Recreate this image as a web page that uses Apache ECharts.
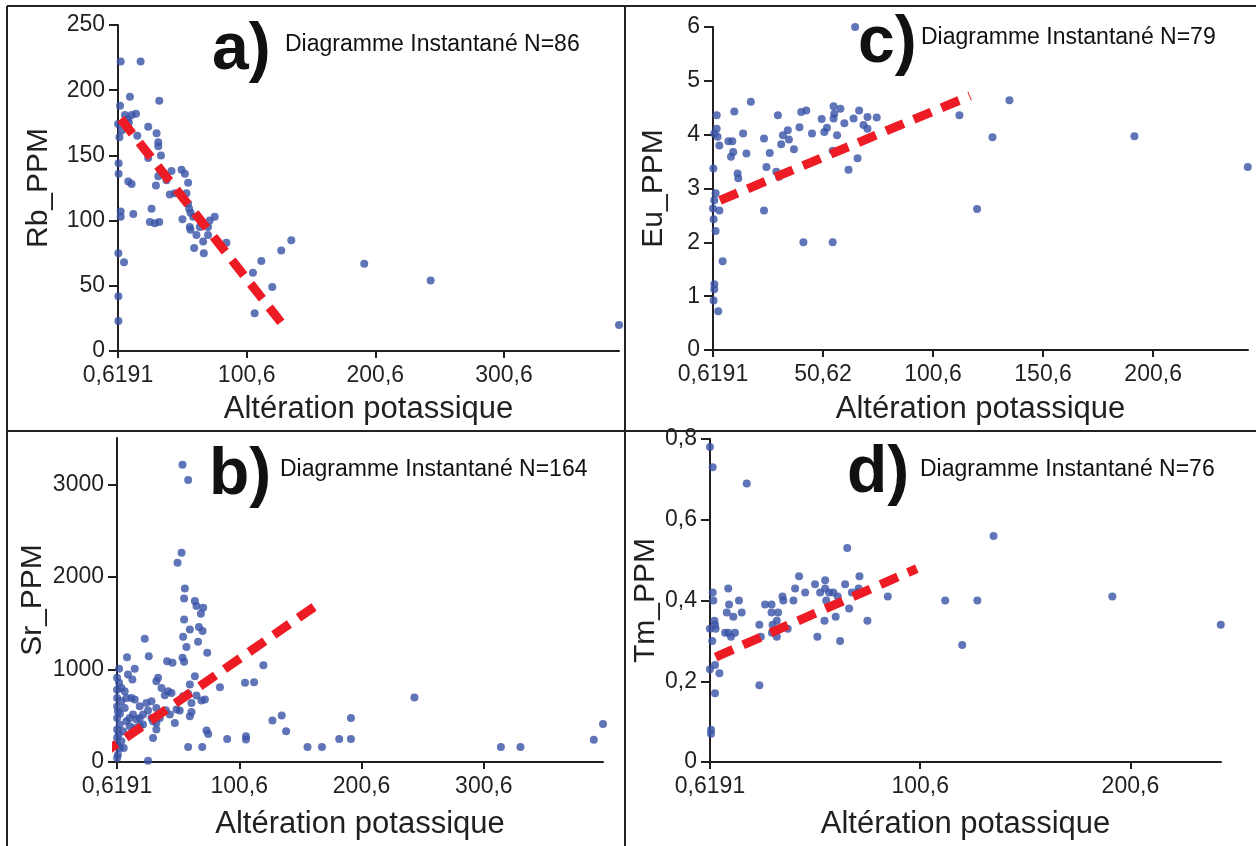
<!DOCTYPE html>
<html><head><meta charset="utf-8">
<script src="https://cdn.jsdelivr.net/npm/echarts@6/dist/echarts.min.js"></script>
<style>html,body{margin:0;padding:0;background:#fff}#c{width:1256px;height:846px}</style>
</head><body><div id="c"></div>
<script>
// ---------- data ----------
const xTicksA = [0.6191, 100.6, 200.6, 300.6];
const xTicksB = [0.6191, 100.6, 200.6, 300.6];
const xTicksC = [0.6191, 50.62, 100.6, 150.6, 200.6];
const xTicksD = [0.6191, 100.6, 200.6];
const yTicksB = [0, 1000, 2000, 3000];

const titleA = 'Diagramme Instantané N=86';
const titleB = 'Diagramme Instantané N=164';
const titleC = 'Diagramme Instantané N=79';
const titleD = 'Diagramme Instantané N=76';
const xName = 'Altération potassique';

// a) Rb_PPM
const rbPoints = [
 [2.7,222],[18.2,222],[2.2,188],[9.9,195],[0.7,174],[6.0,181],[8.6,178],[11.2,181],[14.6,182],
 [3.5,169],[1.7,164],[7.3,173],[9.0,175],[15.6,165],[1.1,144],[1.1,136],[8.6,130],[11.2,128],
 [12.5,105],[2.7,107],[2.7,103],[0.9,75],[5.3,68],[0.9,42],[0.9,23],
 [24.1,172],[24.1,148],[30.6,167],[31.9,160],[31.9,157],[34.0,150],[32.7,192],[26.7,109],
 [25.4,99],[29.3,98],[32.7,99],[30.1,127],[33.2,139],[35.8,136],[31.9,134],[38.3,131],
 [42.2,138],[40.9,120],[44.8,121],[50.0,139],[52.6,136],[55.1,129],[53.8,121],[55.1,113],
 [55.9,109],[50.7,101],[57.0,106],[59.0,103],[56.4,95],[57.0,93],[61.6,89],[59.8,79],
 [65.5,99],[64.2,95],[66.8,84],[67.3,75],[70.6,95],[71.9,100],[75.8,103],[70.6,89],
 [84.9,83],[105.5,60],[106.8,29],[112.0,69],[120.5,49],[127.5,77],[135.3,85],
 [192,67],[243.6,54],[390,20]
];
const rbTrend = [[2.7,178],[127.5,21.7]];

// b) Sr_PPM
const srPoints = [
 [54.2,3210],[58.8,3047],[53.4,2261],[50.1,2153],[56.1,1875],[55.5,1767],[64.3,1738],[65.6,1684],
 [71.1,1666],[69.2,1601],[55.5,1540],[54.7,1352],[60.2,1432],[67.6,1457],[70.6,1414],[57.4,1241],
 [66.9,1298],[74.4,1179],[54.2,1125],[55.5,1082],[23.3,1331],[26.6,1143],[8.8,1132],[15.1,1006],
 [9.6,945],[13.2,891],[2.3,1006],[41.6,1089],[46.0,1071],[34.2,909],[32.8,873],[64.3,927],
 [60.2,837],[120.3,1046],[105.3,855],[112.7,862],[84.8,808],[37.0,800],[42.4,765],[45.2,746],
 [39.7,721],[54.7,711],[65.6,718],[69.7,664],[72.5,674],[61.5,638],[58.8,736],[28.8,656],
 [24.7,638],[19.2,602],[26.0,555],[32.8,584],[40.5,559],[49.3,566],[51.9,555],[43.8,512],
 [47.9,422],[61.5,541],[60.2,494],[73.8,339],[75.2,303],[90.7,249],[106.1,278],[106.1,242],
 [127.7,447],[135.3,501],[138.9,332],[58.8,162],[70.3,162],[26.0,14],[30.1,260],[32.8,350],
 [32.8,422],[19.2,476],[21.9,512],[16.5,458],[13.7,512],[6.9,584],[4.2,656],[6.9,765],
 [4.2,800],[2.3,855],[8.3,692],[12.4,692],[15.1,674],[8.3,440],[11.0,476],[2.8,404],
 [5.5,332],[4.2,224],[2.8,151],[1.4,79],[0.7,43],[0.7,260],[1.4,548],[0.7,692],
 [0.7,476],[0.7,909],[6.1,151],[30.1,440],[35.6,476],[28.8,476],[15.1,368],[11.0,386],
 [21.9,404],[19.2,386],[0.7,350],[0.7,600],[0.7,780],[2.0,300],[3.0,520],[1.2,180],
 [156.4,162],[168.2,162],[182.3,249],[191.9,249],[191.9,476],[243.8,696],[314.5,162],
 [330.5,162],[390.5,241],[398,411]
];
const srTrend = [[-12.2,79],[162.7,1684]];

// c) Eu_PPM
const euPoints = [
 [65.2,6.0],[2.3,4.36],[2.3,4.11],[2.7,3.96],[1.2,4.02],[3.5,3.80],[0.8,3.37],[1.8,2.91],
 [1.2,2.78],[0.6,2.63],[3.5,2.59],[0.9,2.43],[1.8,2.21],[5.0,1.65],[1.2,1.22],[1.2,1.13],
 [0.9,0.92],[3.0,0.72],[10.3,4.43],[17.8,4.61],[7.6,3.88],[9.4,3.88],[9.8,3.68],[8.8,3.59],
 [14.3,4.02],[11.8,3.28],[12.1,3.19],[15.8,3.65],[23.8,3.93],[24.9,3.40],[26.4,3.66],[23.8,2.59],
 [30.1,4.36],[29.4,3.31],[30.6,3.22],[31.6,3.82],[32.4,3.99],[34.6,4.08],[35.1,3.91],[37.4,3.73],
 [39.9,4.14],[40.7,4.42],[43.0,4.45],[45.6,4.02],[41.7,2.00],[50.0,4.29],[51.2,4.05],[52.4,4.13],
 [55.4,4.53],[55.7,4.39],[55.4,4.30],[58.5,4.48],[55.0,3.70],[57.0,3.99],[60.3,4.21],[64.5,4.30],
 [67.0,4.45],[62.2,3.35],[66.3,3.56],[55.0,2.00],[69.0,4.18],[70.8,4.33],[75.0,4.32],[70.8,4.11],
 [84.7,4.16],[112.6,4.36],[135.3,4.64],[127.6,3.95],[120.6,2.62],[192.1,3.97],[243.6,3.40]
];
const euTrend = [[3.8,2.78],[117.4,4.72]];

// d) Tm_PPM
const tmPoints = [
 [0.6,0.78],[1.9,0.73],[18.1,0.69],[1.9,0.42],[2.2,0.40],[0.6,0.33],[2.7,0.35],[3.0,0.34],
 [3.3,0.33],[1.7,0.30],[0.6,0.23],[3.0,0.24],[5.1,0.22],[3.0,0.17],[1.1,0.08],[1.1,0.07],
 [9.3,0.43],[7.8,0.32],[9.3,0.32],[10.6,0.31],[9.7,0.39],[8.6,0.37],[11.7,0.36],[12.5,0.32],
 [14.4,0.40],[15.7,0.37],[24.1,0.34],[24.8,0.31],[26.8,0.39],[24.1,0.19],[29.9,0.39],[29.9,0.37],
 [33.0,0.37],[30.4,0.34],[32.4,0.35],[30.1,0.32],[32.4,0.31],[35.1,0.41],[35.5,0.40],[37.6,0.33],
 [40.3,0.40],[41.1,0.43],[43.0,0.46],[45.9,0.42],[50.6,0.44],[51.7,0.31],[53.0,0.42],[55.1,0.35],
 [55.4,0.45],[55.9,0.40],[55.4,0.43],[57.3,0.42],[59.3,0.42],[60.4,0.36],[61.4,0.41],[62.5,0.30],
 [64.9,0.44],[65.9,0.53],[66.8,0.38],[68.1,0.42],[71.3,0.42],[71.7,0.46],[71.3,0.43],[75.5,0.35],
 [85.2,0.41],[112.5,0.40],[120.6,0.29],[127.8,0.40],[135.5,0.56],[192.0,0.41],[243.6,0.34]
];
const tmTrend = [[3.3,0.26],[99,0.479]];

// ---------- chart ----------
const FONT = '"Liberation Sans", Arial, sans-serif';
const INK = '#231f20';
const DOT = '#3853a6';
const RED = '#ed1c24';
const comma = v => String(+Number(v).toFixed(4)).replace('.', ',');

function xAxis(idx, max, ticks, gap) {
  return {
    type: 'value', gridIndex: idx, min: 0.6191, max: max,
    name: xName, nameLocation: 'middle', nameGap: gap,
    nameTextStyle: { fontFamily: FONT, fontSize: 31, color: INK },
    axisLine: { onZero: false, lineStyle: { color: INK, width: 2 } },
    axisTick: { show: true, length: 7, customValues: ticks, lineStyle: { color: INK, width: 2 } },
    axisLabel: { customValues: ticks, formatter: comma, fontFamily: FONT, fontSize: 23, color: INK, margin: 13, showMinLabel: true, showMaxLabel: true },
    splitLine: { show: false }
  };
}
function yAxis(idx, name, max, interval, gap, custom) {
  const o = {
    type: 'value', gridIndex: idx, min: 0, max: max, interval: interval,
    name: name, nameLocation: 'middle', nameGap: gap,
    nameTextStyle: { fontFamily: FONT, fontSize: 30, color: INK },
    axisLine: { show: true, onZero: false, lineStyle: { color: INK, width: 2 } },
    axisTick: { show: true, length: 9, lineStyle: { color: INK, width: 2 } },
    axisLabel: { formatter: comma, fontFamily: FONT, fontSize: 23, color: INK, margin: 13 },
    splitLine: { show: false }
  };
  if (custom) { o.axisTick.customValues = custom; o.axisLabel.customValues = custom; }
  return o;
}
function scatter(idx, data) {
  return { type: 'scatter', xAxisIndex: idx, yAxisIndex: idx, data: data, symbolSize: 8,
    itemStyle: { color: DOT }, silent: true, z: 3 };
}
function trend(idx, data) {
  return { type: 'line', xAxisIndex: idx, yAxisIndex: idx, data: data, symbol: 'none', clip: false,
    lineStyle: { color: RED, width: 9, type: [19, 11], cap: 'butt' }, silent: true, z: 4 };
}
function label(x, y, text, size, bold) {
  return { type: 'text', left: x, top: y, z: 10, silent: true,
    style: { text: text, fontFamily: FONT, fontSize: size, fontWeight: bold ? 'bold' : 'normal', fill: '#111' } };
}
function line(x1, y1, x2, y2) {
  return { type: 'line', z: 20, silent: true, shape: { x1, y1, x2, y2 }, style: { stroke: '#222', lineWidth: 2 } };
}

const chart = echarts.init(document.getElementById('c'), null, { renderer: 'canvas' });
chart.setOption({
  animation: false,
  backgroundColor: '#fff',
  grid: [
    { left: 118, top: 25, width: 501, height: 326 },
    { left: 117, top: 438, width: 486, height: 324 },
    { left: 713, top: 27, width: 535, height: 323 },
    { left: 710, top: 439, width: 511, height: 323 }
  ],
  xAxis: [
    xAxis(0, 390, xTicksA, 43),
    xAxis(1, 398, xTicksB, 47),
    xAxis(2, 243.7, xTicksC, 44),
    xAxis(3, 243.7, xTicksD, 47)
  ],
  yAxis: [
    yAxis(0, 'Rb_PPM', 250, 50, 64),
    yAxis(1, 'Sr_PPM', 3500, 500, 69, yTicksB),
    yAxis(2, 'Eu_PPM', 6, 1, 44),
    yAxis(3, 'Tm_PPM', 0.8, 0.2, 46)
  ],
  series: [
    scatter(0, rbPoints), trend(0, rbTrend),
    scatter(1, srPoints), trend(1, srTrend),
    scatter(2, euPoints), trend(2, euTrend),
    scatter(3, tmPoints), trend(3, tmTrend)
  ],
  graphic: [
    label(212, 18, 'a)', 66, true),
    label(285, 33, titleA, 23, false),
    label(209, 443, 'b)', 66, true),
    label(280, 458, titleB, 23, false),
    label(858, 11, 'c)', 66, true),
    label(921, 26, titleC, 23, false),
    label(847, 441, 'd)', 66, true),
    label(920, 458, titleD, 23, false),
    line(7, 6, 1256, 6),
    line(7, 6, 7, 846),
    line(625, 6, 625, 846),
    line(7, 431, 1256, 431)
  ]
});
</script></body></html>
